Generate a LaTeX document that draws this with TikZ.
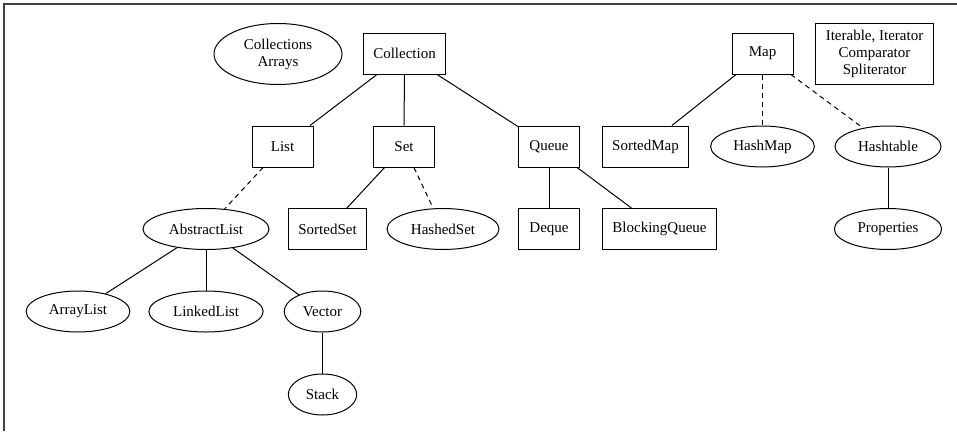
\documentclass[tikz,border=0pt]{standalone}
\usepackage{fontspec}
\setmainfont{Liberation Serif}
\usepackage{tikz}
\usetikzlibrary{shapes.geometric}

\begin{document}
\begin{tikzpicture}[
    x=1pt, y=-1pt,
    every node/.style={font=\fontsize{15}{17}\selectfont, align=center},
    box/.style={draw, rectangle, inner xsep=10pt, inner ysep=0pt,
                minimum width=61pt, minimum height=41pt},
    oval/.style={draw, ellipse, inner xsep=7.5pt, inner ysep=0pt,
                 minimum height=41pt},
    link/.style={line width=1pt},
    impl/.style={line width=1pt, dash pattern=on 5pt off 4pt},
    line width=1pt]
\useasboundingbox (0,0) rectangle (957,431);
\draw[black!75, line width=1.2pt] (4,431) |- (957,4);

% top row
\node (util) [oval, minimum width=128pt, minimum height=61pt] at (278,54) {Collections\\Arrays};
\node (coll) [box] at (404.5,53.5) {Collection};
\node (map)  [box] at (762.5,53.5) {Map};
\node (iter) [box, minimum height=61pt] at (874.5,53.5) {Iterable, Iterator\\Comparator\\Spliterator};

% second row
\node (list)  [box]  at (282.5,146.5) {List};
\node (set)   [box]  at (404,146.5)   {Set};
\node (queue) [box]  at (549,146.5)   {Queue};
\node (smap)  [box]  at (645.5,146.5) {SortedMap};
\node (hmap)  [oval] at (762.5,146.5) {HashMap};
\node (htab)  [oval] at (888,146.5)   {Hashtable};

% third row
\node (alist) [oval] at (206,229)   {AbstractList};
\node (sset)  [box]  at (327.5,229) {SortedSet};
\node (hset)  [oval] at (443,229)   {HashedSet};
\node (deque) [box]  at (549,229)   {Deque};
\node (bq)    [box]  at (659.5,229) {BlockingQueue};
\node (props) [oval] at (888,229)   {Properties};

% fourth and fifth row
\node (arr)   [oval] at (78,311.5)  {ArrayList};
\node (llist) [oval] at (206,311.5) {LinkedList};
\node (vec)   [oval] at (322.5,311.5) {Vector};
\node (stack) [oval] at (322.5,394.5) {Stack};

\draw[link] (coll) -- (list);
\draw[link] (coll) -- (set);
\draw[link] (coll) -- (queue);
\draw[impl] (list) -- (alist);
\draw[link] (set) -- (sset);
\draw[impl] (set) -- (hset);
\draw[link] (queue) -- (deque);
\draw[link] (queue) -- (bq);
\draw[link] (map) -- (smap);
\draw[impl] (map) -- (hmap);
\draw[impl] (map) -- (htab);
\draw[link] (htab) -- (props);
\draw[link] (alist) -- (arr);
\draw[link] (alist) -- (llist);
\draw[link] (alist) -- (vec);
\draw[link] (vec) -- (stack);
\end{tikzpicture}
\end{document}
